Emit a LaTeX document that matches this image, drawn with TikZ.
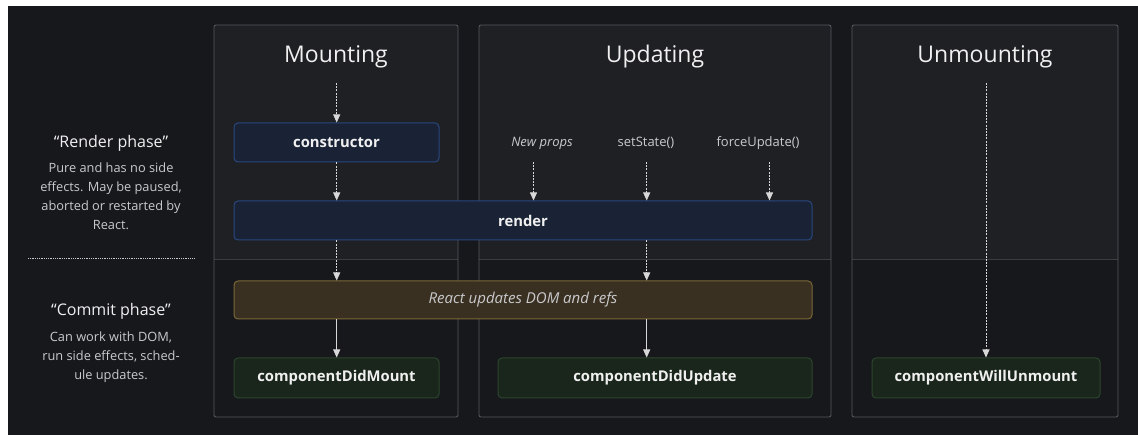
\documentclass[tikz,border=0pt]{standalone}
\usepackage{fontspec}
\setmainfont{Open Sans}
\usetikzlibrary{arrows.meta}
\definecolor{bg}{HTML}{17181C}
\definecolor{panelup}{HTML}{1F2024}
\definecolor{panelline}{HTML}{55575D}
\definecolor{divline}{HTML}{3C3D42}
\definecolor{bluefill}{HTML}{1A2336}
\definecolor{blueline}{HTML}{29477F}
\definecolor{brownfill}{HTML}{3A3021}
\definecolor{brownline}{HTML}{7A6838}
\definecolor{greenfill}{HTML}{1A261C}
\definecolor{greenline}{HTML}{2B452C}
\definecolor{txt}{HTML}{F0F0F0}
\definecolor{soft}{HTML}{C9CACD}
\definecolor{arr}{HTML}{D8D8D8}
\tikzset{
  panel/.style={draw=panelline, line width=0.9pt, rounded corners=2pt},
  box/.style={rectangle, rounded corners=4pt, line width=1pt, inner sep=0pt, text=txt, font=\fontsize{14.8}{17}\selectfont\bfseries},
  bluebox/.style={box, fill=bluefill, draw=blueline},
  brownbox/.style={box, fill=brownfill, draw=brownline, font=\fontsize{15}{17}\selectfont\itshape, text=soft},
  greenbox/.style={box, fill=greenfill, draw=greenline},
  title/.style={text=txt, font=\fontsize{23}{26}\selectfont},
  trig/.style={text=soft, font=\fontsize{13}{15}\selectfont},
  phase/.style={text=txt, font=\fontsize{16}{19}\selectfont},
  phasebody/.style={text=soft, font=\fontsize{12.8}{19}\selectfont, align=center},
  dflow/.style={draw=arr, line width=0.8pt, dash pattern=on 2pt off 1.2pt, -{Triangle[width=7pt,length=8pt]}},
  sflow/.style={draw=arr, line width=0.8pt, -{Triangle[width=7pt,length=8pt]}},
}
\begin{document}
\begin{tikzpicture}[x=1pt,y=-1pt]
\useasboundingbox (0,0) rectangle (1138,435);
\fill[white] (0,0) rectangle (1138,435);
\fill[bg] (8,6) rectangle (1138,435);
% panels
\foreach \l/\r in {214/458, 479/831, 852/1118}{
  \fill[panelup] (\l,25) [rounded corners=2pt] -- (\l,260) [sharp corners] -- (\r,260) [rounded corners=2pt]-- (\r,25) -- cycle;
  \draw[divline, line width=1pt] (\l,260) -- (\r,260);
  \draw[panel] (\l,25) rectangle (\r,417);
}
% titles
\node[title] (tmount) at (336,57) {Mounting};
\node[title] (tupd) at (655,57) {Updating};
\node[title] (tunm) at (985,57) {Unmounting};
% left texts
\node[phase] (rphase) at (111,143) {“Render phase”};
\node[phasebody, anchor=north] (rbody) at (111,159) {Pure and has no side\\effects. May be paused,\\aborted or restarted by\\React.};
\draw[soft, line width=1pt, dash pattern=on 0.8pt off 1pt] (28,259) -- (194,259);
\node[phase] (cphase) at (111,311) {“Commit phase”};
\node[phasebody, anchor=north] (cbody) at (111,328) {Can work with DOM,\\run side effects, sched-\\ule updates.};
% boxes
\node[bluebox, minimum width=205pt, minimum height=39pt] (ctor) at (336.5,142.5) {constructor};
\node[bluebox, minimum width=578pt, minimum height=39pt] (render) at (523,220.5) {render};
\node[brownbox, minimum width=578pt, minimum height=38pt] (dom) at (523,300) {React updates DOM and refs};
\node[greenbox, minimum width=205pt, minimum height=40pt] (cdm) at (336.5,378) {componentDidMount};
\node[greenbox, minimum width=314pt, minimum height=40pt] (cdu) at (655,378) {componentDidUpdate};
\node[greenbox, minimum width=228pt, minimum height=40pt] (cwu) at (986,378) {componentWillUnmount};
% update triggers
\node[trig, font=\fontsize{13}{15}\selectfont\itshape] (np) at (542,143) {New props};
\node[trig] (ss) at (646,143) {setState()};
\node[trig] (fu) at (758,143) {forceUpdate()};
\coordinate (m0) at (336.7,83);
\coordinate (u0) at (986,83);
\coordinate (a1) at (533.5,162);
\coordinate (a2) at (646.7,162);
\coordinate (a3) at (769.5,162);
% arrows
\draw[dflow] (m0) -- (m0 |- ctor.north);
\draw[dflow] (ctor.south -| m0) -- (render.north -| m0);
\draw[dflow] (render.south -| m0) -- (dom.north -| m0);
\draw[sflow] (dom.south -| m0) -- (cdm.north -| m0);
\draw[dflow] (a1) -- (render.north -| a1);
\draw[dflow] (a2) -- (render.north -| a2);
\draw[dflow] (a3) -- (render.north -| a3);
\draw[dflow] (render.south -| a2) -- (dom.north -| a2);
\draw[sflow] (dom.south -| a2) -- (cdu.north -| a2);
\draw[dflow] (u0) -- (cwu.north -| u0);
\end{tikzpicture}
\end{document}
